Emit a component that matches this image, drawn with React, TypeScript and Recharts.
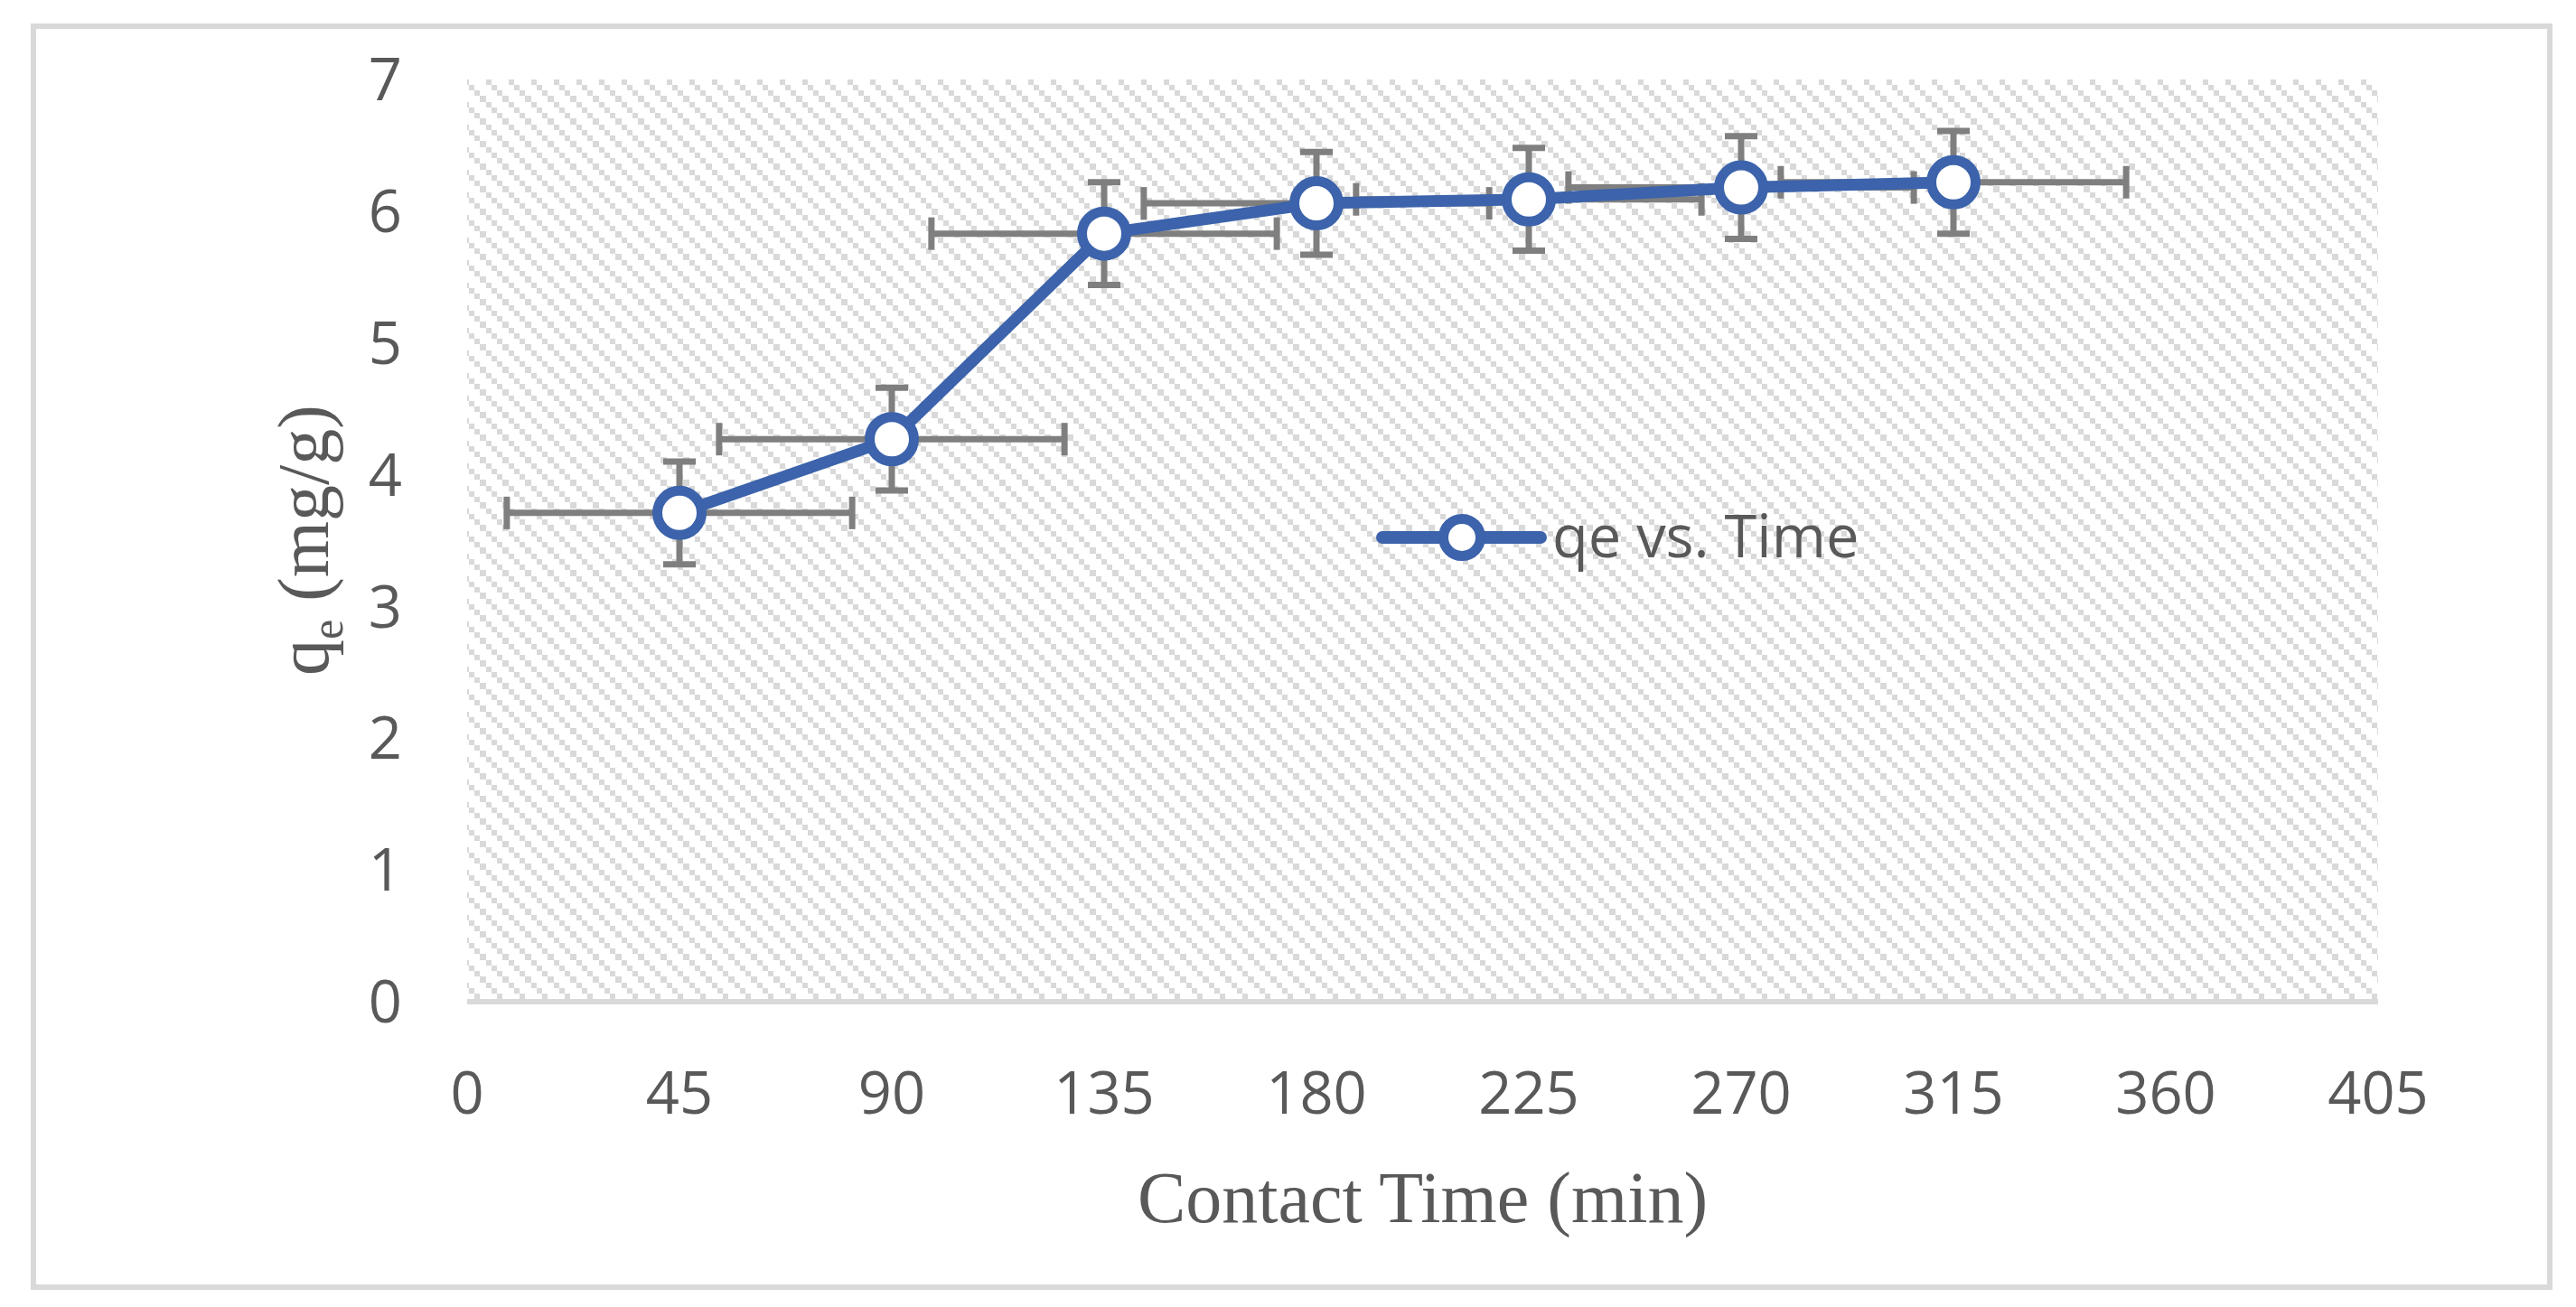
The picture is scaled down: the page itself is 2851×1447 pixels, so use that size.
import React from 'react';
import { ScatterChart, Scatter, XAxis, YAxis, ErrorBar, CartesianGrid } from 'recharts';

const SERIES_NAME = 'qe vs. Time';
const TIME_VALUES = [45, 90, 135, 180, 225, 270, 315];
const QE_VALUES = [3.71, 4.27, 5.83, 6.06, 6.09, 6.18, 6.22];
const QE_ERRORS = [0.39, 0.39, 0.39, 0.39, 0.39, 0.39, 0.39];
const TIME_ERRORS = [36.6, 36.6, 36.6, 36.6, 36.6, 36.6, 36.6];
const X_TICKS = [0, 45, 90, 135, 180, 225, 270, 315, 360, 405];
const Y_TICKS = [0, 1, 2, 3, 4, 5, 6, 7];
const X_TITLE = 'Contact Time (min)';

const data = TIME_VALUES.map((t, i) => ({ x: t, y: QE_VALUES[i], ex: TIME_ERRORS[i], ey: QE_ERRORS[i] }));

const BLUE = '#3c63ab';
const GREY_TEXT = '#595959';
const ERR = '#7f7f7f';
const TICK_FONT = { fontFamily: '"Open Sans", sans-serif', fontSize: 65, fill: GREY_TEXT };
const SERIF = '"Liberation Serif", serif';

const Marker = (p: any) => (
  <circle cx={p.cx} cy={p.cy} r={24.5} fill="#ffffff" stroke={BLUE} strokeWidth={11} />
);

export default function App() {
  return (
    <div style={{ position: 'absolute', left: 0, top: 0, width: 2851, height: 1447, background: '#fff', overflow: 'hidden' }}>
      <svg width={0} height={0} style={{ position: 'absolute' }}>
        <defs>
          <pattern id="hatch" patternUnits="userSpaceOnUse" x={0} y={0} width={25} height={25}>
            <rect x={0} y={0} width={6.25} height={6.25} fill="#d9d9d9" shapeRendering="crispEdges" />
            <rect x={6.25} y={6.25} width={6.25} height={6.25} fill="#d9d9d9" shapeRendering="crispEdges" />
            <rect x={12.5} y={12.5} width={6.25} height={6.25} fill="#d9d9d9" shapeRendering="crispEdges" />
            <rect x={18.75} y={18.75} width={6.25} height={6.25} fill="#d9d9d9" shapeRendering="crispEdges" />
          </pattern>
        </defs>
      </svg>
      <div style={{ position: 'absolute', left: 34, top: 26, width: 2791, height: 1402, border: '6px solid #d9d9d9', boxSizing: 'border-box' }} />
      <div style={{ position: 'absolute', left: 0, top: 0 }}>
        <ScatterChart width={2851} height={1447} margin={{ top: 88, right: 219, bottom: 238, left: 417 }}>
          <CartesianGrid horizontal={false} vertical={false} fill="url(#hatch)" stroke="none" />
          <XAxis
            type="number"
            dataKey="x"
            domain={[0, 405]}
            ticks={X_TICKS}
            allowDataOverflow
            height={100}
            axisLine={{ stroke: '#d9d9d9', strokeWidth: 6 }}
            tickLine={false}
            tickSize={0}
            tickMargin={78}
            tick={TICK_FONT}
            interval={0}
          />
          <YAxis
            type="number"
            dataKey="y"
            domain={[0, 7]}
            ticks={Y_TICKS}
            allowDataOverflow
            width={100}
            axisLine={false}
            tickLine={false}
            tickSize={0}
            tickMargin={72}
            tick={TICK_FONT}
            interval={0}
          />
          <Scatter
            name={SERIES_NAME}
            data={data}
            isAnimationActive={false}
            line={{ stroke: BLUE, strokeWidth: 13 }}
            lineJointType="linear"
            shape={Marker}
          >
            <ErrorBar dataKey="ex" direction="x" width={18} stroke={ERR} strokeWidth={7} isAnimationActive={false} />
            <ErrorBar dataKey="ey" direction="y" width={18} stroke={ERR} strokeWidth={7} isAnimationActive={false} />
          </Scatter>
        </ScatterChart>
      </div>
      <svg width={2851} height={1447} style={{ position: 'absolute', left: 0, top: 0, pointerEvents: 'none' }}>
        <text x={1574.5} y={1353} textAnchor="middle" fontFamily={SERIF} fontSize={80} fill={GREY_TEXT}>
          {X_TITLE}
        </text>
        <text transform="translate(363,598) rotate(-90)" textAnchor="middle" fontFamily={SERIF} fontSize={80} fill={GREY_TEXT}>
          <tspan>q</tspan>
          <tspan fontSize={50} dy={16}>e</tspan>
          <tspan dy={-16}> (mg/g)</tspan>
        </text>
        <line x1={1530} y1={595} x2={1705} y2={595} stroke={BLUE} strokeWidth={14} strokeLinecap="round" />
        <circle cx={1618} cy={595} r={20.5} fill="#fff" stroke={BLUE} strokeWidth={11} />
        <text x={1718} y={617} fontFamily='"Open Sans", sans-serif' fontSize={65} fill={GREY_TEXT}>
          {SERIES_NAME}
        </text>
      </svg>
    </div>
  );
}
